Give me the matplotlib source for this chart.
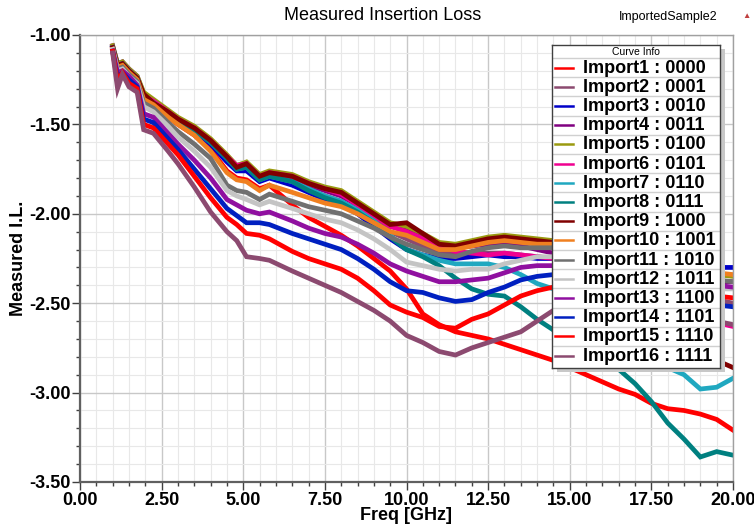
import matplotlib.pyplot as plt
from matplotlib.ticker import MultipleLocator, FormatStrFormatter
from matplotlib.patches import Rectangle

plt.rcParams['font.family'] = ['Liberation Sans', 'DejaVu Sans']

# frequency points (GHz) shared by all traces
freq = [1.0, 1.15, 1.3, 1.5, 1.75, 1.95, 2.25, 2.7, 3.0, 3.5, 4.0, 4.5, 4.8, 5.1,
        5.5, 5.8, 6.5, 7.0, 7.5, 8.0, 8.5, 9.0, 9.5, 10.0, 10.5, 11.0, 11.5, 12.0,
        12.5, 13.0, 13.5, 14.0, 14.5, 15.0, 15.5, 16.0, 16.5, 17.0, 17.5, 18.0,
        18.5, 19.0, 19.5, 20.0]

il_0000 = [-1.08, -1.18, -1.17, -1.21, -1.25, -1.36, -1.39, -1.46, -1.50, -1.56, -1.64, -1.76, -1.80, -1.81,
           -1.86, -1.84, -1.95, -2.02, -2.07, -2.12, -2.18, -2.25, -2.32, -2.42, -2.56, -2.62, -2.66, -2.68,
           -2.70, -2.73, -2.76, -2.79, -2.82, -2.86, -2.90, -2.94, -2.98, -3.01, -3.06, -3.09,
           -3.10, -3.12, -3.15, -3.21]
il_0001 = [-1.07, -1.17, -1.16, -1.20, -1.24, -1.34, -1.38, -1.44, -1.48, -1.53, -1.60, -1.70, -1.75, -1.75,
           -1.81, -1.79, -1.83, -1.87, -1.90, -1.93, -1.98, -2.04, -2.10, -2.14, -2.18, -2.21, -2.22, -2.22,
           -2.22, -2.22, -2.23, -2.24, -2.25, -2.28, -2.31, -2.34, -2.37, -2.40, -2.42, -2.44,
           -2.46, -2.47, -2.48, -2.50]
il_0010 = [-1.07, -1.17, -1.16, -1.20, -1.24, -1.34, -1.38, -1.44, -1.48, -1.54, -1.61, -1.71, -1.76, -1.76,
           -1.82, -1.80, -1.84, -1.88, -1.92, -1.95, -2.00, -2.07, -2.14, -2.20, -2.23, -2.25, -2.25, -2.24,
           -2.23, -2.24, -2.24, -2.25, -2.25, -2.26, -2.27, -2.27, -2.28, -2.28, -2.29, -2.29,
           -2.29, -2.30, -2.30, -2.30]
il_0011 = [-1.06, -1.16, -1.15, -1.19, -1.23, -1.33, -1.37, -1.43, -1.47, -1.52, -1.59, -1.68, -1.73, -1.72,
           -1.79, -1.77, -1.80, -1.84, -1.87, -1.90, -1.95, -2.01, -2.07, -2.09, -2.13, -2.18, -2.19, -2.18,
           -2.17, -2.17, -2.18, -2.20, -2.22, -2.25, -2.27, -2.29, -2.31, -2.33, -2.34, -2.35,
           -2.36, -2.37, -2.38, -2.38]
il_0100 = [-1.06, -1.16, -1.15, -1.19, -1.23, -1.32, -1.36, -1.42, -1.46, -1.51, -1.58, -1.67, -1.73, -1.71,
           -1.78, -1.76, -1.78, -1.82, -1.85, -1.87, -1.93, -1.99, -2.05, -2.07, -2.11, -2.16, -2.17, -2.15,
           -2.13, -2.12, -2.13, -2.14, -2.15, -2.17, -2.19, -2.21, -2.23, -2.25, -2.27, -2.29,
           -2.31, -2.33, -2.34, -2.35]
il_0101 = [-1.07, -1.17, -1.16, -1.20, -1.24, -1.34, -1.37, -1.43, -1.47, -1.52, -1.59, -1.68, -1.73, -1.72,
           -1.79, -1.77, -1.79, -1.83, -1.86, -1.89, -1.95, -2.01, -2.07, -2.10, -2.14, -2.18, -2.21, -2.22,
           -2.23, -2.22, -2.23, -2.24, -2.25, -2.28, -2.31, -2.35, -2.39, -2.43, -2.47, -2.51,
           -2.55, -2.58, -2.61, -2.63]
il_0110 = [-1.07, -1.17, -1.16, -1.20, -1.24, -1.34, -1.38, -1.44, -1.48, -1.53, -1.60, -1.69, -1.75, -1.74,
           -1.81, -1.79, -1.82, -1.86, -1.90, -1.93, -1.98, -2.04, -2.12, -2.20, -2.23, -2.26, -2.28, -2.28,
           -2.28, -2.30, -2.34, -2.39, -2.42, -2.47, -2.53, -2.58, -2.64, -2.70, -2.79, -2.86,
           -2.90, -2.98, -2.97, -2.92]
il_0111 = [-1.07, -1.17, -1.16, -1.20, -1.24, -1.34, -1.38, -1.44, -1.48, -1.53, -1.60, -1.69, -1.75, -1.74,
           -1.81, -1.79, -1.82, -1.87, -1.91, -1.94, -1.99, -2.05, -2.13, -2.20, -2.24, -2.29, -2.36, -2.42,
           -2.45, -2.46, -2.52, -2.59, -2.65, -2.70, -2.74, -2.80, -2.87, -2.95, -3.05, -3.17,
           -3.26, -3.36, -3.33, -3.35]
il_1000 = [-1.07, -1.17, -1.16, -1.20, -1.24, -1.33, -1.38, -1.43, -1.47, -1.52, -1.59, -1.68, -1.74, -1.72,
           -1.79, -1.77, -1.79, -1.83, -1.86, -1.88, -1.94, -2.00, -2.06, -2.05, -2.11, -2.17, -2.18, -2.16,
           -2.14, -2.13, -2.14, -2.15, -2.16, -2.20, -2.25, -2.31, -2.38, -2.45, -2.53, -2.61,
           -2.69, -2.76, -2.82, -2.86]
il_1001 = [-1.08, -1.18, -1.17, -1.21, -1.25, -1.36, -1.39, -1.46, -1.50, -1.56, -1.65, -1.77, -1.81, -1.82,
           -1.87, -1.84, -1.88, -1.91, -1.94, -1.96, -2.00, -2.05, -2.10, -2.12, -2.16, -2.20, -2.20, -2.18,
           -2.16, -2.15, -2.16, -2.17, -2.17, -2.19, -2.21, -2.23, -2.25, -2.27, -2.29, -2.31,
           -2.32, -2.33, -2.33, -2.34]
il_1010 = [-1.08, -1.19, -1.18, -1.22, -1.26, -1.38, -1.41, -1.49, -1.54, -1.61, -1.69, -1.84, -1.87, -1.88,
           -1.92, -1.89, -1.93, -1.96, -1.98, -2.00, -2.04, -2.08, -2.13, -2.17, -2.20, -2.23, -2.24, -2.21,
           -2.19, -2.18, -2.19, -2.19, -2.19, -2.21, -2.24, -2.26, -2.28, -2.30, -2.32, -2.34,
           -2.35, -2.36, -2.37, -2.38]
il_1011 = [-1.08, -1.20, -1.19, -1.23, -1.27, -1.40, -1.43, -1.51, -1.57, -1.65, -1.74, -1.87, -1.90, -1.92,
           -1.95, -1.93, -1.97, -2.00, -2.03, -2.05, -2.09, -2.14, -2.20, -2.27, -2.29, -2.31, -2.32, -2.31,
           -2.31, -2.28, -2.26, -2.24, -2.24, -2.27, -2.30, -2.33, -2.36, -2.38, -2.40, -2.41,
           -2.42, -2.42, -2.42, -2.42]
il_1100 = [-1.09, -1.21, -1.20, -1.23, -1.28, -1.44, -1.46, -1.55, -1.61, -1.70, -1.80, -1.92, -1.95, -1.98,
           -2.00, -1.99, -2.04, -2.08, -2.11, -2.13, -2.17, -2.22, -2.28, -2.32, -2.35, -2.38, -2.38, -2.37,
           -2.36, -2.33, -2.30, -2.29, -2.29, -2.30, -2.32, -2.33, -2.34, -2.35, -2.36, -2.37,
           -2.38, -2.39, -2.40, -2.41]
il_1101 = [-1.09, -1.24, -1.21, -1.25, -1.29, -1.47, -1.49, -1.58, -1.64, -1.75, -1.86, -1.97, -2.01, -2.05,
           -2.05, -2.06, -2.11, -2.14, -2.17, -2.20, -2.25, -2.31, -2.38, -2.43, -2.44, -2.47, -2.49, -2.48,
           -2.44, -2.41, -2.37, -2.35, -2.34, -2.36, -2.38, -2.40, -2.42, -2.44, -2.46, -2.48,
           -2.49, -2.50, -2.51, -2.52]
il_1110 = [-1.09, -1.26, -1.21, -1.27, -1.30, -1.50, -1.52, -1.61, -1.67, -1.79, -1.91, -2.02, -2.06, -2.11,
           -2.12, -2.14, -2.21, -2.25, -2.28, -2.31, -2.36, -2.43, -2.51, -2.55, -2.58, -2.63, -2.64, -2.59,
           -2.56, -2.51, -2.46, -2.43, -2.41, -2.39, -2.38, -2.38, -2.39, -2.40, -2.41, -2.42,
           -2.43, -2.44, -2.46, -2.47]
il_1111 = [-1.10, -1.30, -1.22, -1.29, -1.32, -1.53, -1.55, -1.65, -1.72, -1.85, -1.99, -2.10, -2.15, -2.24,
           -2.25, -2.26, -2.32, -2.36, -2.40, -2.44, -2.49, -2.54, -2.60, -2.68, -2.72, -2.77, -2.79, -2.75,
           -2.72, -2.69, -2.66, -2.60, -2.54, -2.50, -2.47, -2.45, -2.45, -2.46, -2.48, -2.51,
           -2.54, -2.57, -2.60, -2.62]

labels = ['Import1 : 0000', 'Import2 : 0001', 'Import3 : 0010', 'Import4 : 0011',
          'Import5 : 0100', 'Import6 : 0101', 'Import7 : 0110', 'Import8 : 0111',
          'Import9 : 1000', 'Import10 : 1001', 'Import11 : 1010', 'Import12 : 1011',
          'Import13 : 1100', 'Import14 : 1101', 'Import15 : 1110', 'Import16 : 1111']
colors = ['#ff0000', '#8c4a70', '#0000c8', '#800080', '#9a9a10', '#f00090', '#20a8c0', '#008080',
          '#800000', '#f08020', '#707070', '#c4c4c4', '#9010a0', '#0020c0', '#ff0000', '#8c4a70']
series = [il_0000, il_0001, il_0010, il_0011, il_0100, il_0101, il_0110, il_0111,
          il_1000, il_1001, il_1010, il_1011, il_1100, il_1101, il_1110, il_1111]

W, H = 754, 525
fig = plt.figure(figsize=(W / 100, H / 100), dpi=100)
ax = fig.add_axes([80 / W, 43 / H, 653 / W, 447 / H])
ax.set_zorder(0)

for vals, col in zip(series, colors):
    ax.plot(freq, vals, color=col, lw=3.4, solid_joinstyle='miter')

ax.set_xlim(0, 20)
ax.set_ylim(-3.5, -1.0)
ax.xaxis.set_major_locator(MultipleLocator(2.5))
ax.xaxis.set_minor_locator(MultipleLocator(0.5))
ax.yaxis.set_major_locator(MultipleLocator(0.5))
ax.yaxis.set_minor_locator(MultipleLocator(0.1))
ax.xaxis.set_major_formatter(FormatStrFormatter('%.2f'))
ax.yaxis.set_major_formatter(FormatStrFormatter('%.2f'))
ax.grid(which='major', color='#c8c8c8', lw=1.0)
ax.grid(which='minor', color='#e8e8e8', lw=0.8)
ax.set_axisbelow(True)
ax.tick_params(which='major', length=6, width=1, color='#404040', pad=1)
ax.tick_params(which='minor', length=3, width=1, color='#404040')
for lab in ax.get_xticklabels() + ax.get_yticklabels():
    lab.set_fontsize(13)
    lab.set_fontweight('bold')
for side in ['left', 'bottom']:
    ax.spines[side].set_color('#606060')
    ax.spines[side].set_linewidth(1.6)
for side in ['top', 'right']:
    ax.spines[side].set_color('#a0a0a0')
    ax.spines[side].set_linewidth(1.0)

ax.set_xlabel('Freq [GHz]', fontsize=13, fontweight='bold', labelpad=-1)
ax.set_ylabel('Measured I.L.', fontsize=13, fontweight='bold', labelpad=1)

fig.text(383 / W, 1 - 16 / H, 'Measured Insertion Loss', fontsize=13, ha='center', va='center')
fig.text(718 / W, 1 - 17 / H, 'ImportedSample2', fontsize=9, ha='right', va='center')
fig.text(746 / W, 1 - 17 / H, '\u25b2', fontsize=6, color='#c04040', ha='center', va='center')

# curve info box
lx, ly, lw_, lh = 552, 45, 168, 323
shadow = Rectangle(((lx + 5) / W, 1 - (ly + lh + 4) / H), lw_ / W, lh / H,
                   transform=fig.transFigure, facecolor='#c8c8c8', edgecolor='none', zorder=1)
fig.patches.append(shadow)
lax = fig.add_axes([lx / W, 1 - (ly + lh) / H, lw_ / W, lh / H])
lax.set_zorder(2)
lax.set_xlim(0, lw_)
lax.set_ylim(lh, 0)
lax.set_xticks([])
lax.set_yticks([])
for sp in lax.spines.values():
    sp.set_color('#404040')
    sp.set_linewidth(1.0)
lax.text(lw_ / 2, 7, 'Curve Info', fontsize=7.5, ha='center', va='center')
row_h = 19.2
for i, (lab, col) in enumerate(zip(labels, colors)):
    top = 13 + i * row_h
    lax.plot([0, lw_], [top, top], color='#d0d0d0', lw=1.0)
    mid = top + row_h / 2
    lax.plot([3, 21], [mid, mid], color=col, lw=1.8)
    lax.text(31, mid + 0.5, lab, fontsize=13, fontweight='bold', va='center', ha='left')

fig.savefig('out.png', dpi=100)
